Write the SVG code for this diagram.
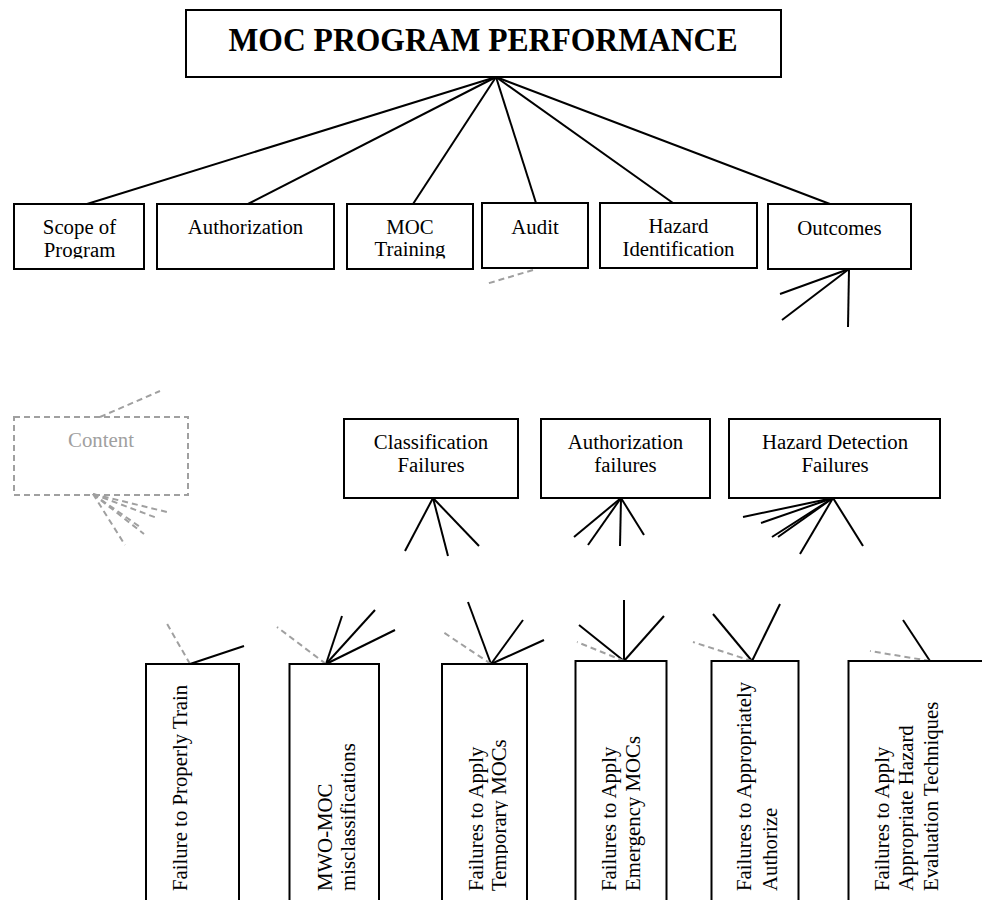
<svg xmlns="http://www.w3.org/2000/svg" width="982" height="900" viewBox="0 0 982 900">
<style>
.box{fill:#fff;stroke:#000;stroke-width:2}
.dbox{fill:none;stroke:#a0a0a0;stroke-width:2;stroke-dasharray:6 4}
.t{font-family:"Liberation Serif","Times New Roman",serif;font-size:20.8px;fill:#000}
.c{text-anchor:middle}
.title{font-family:"Liberation Serif","Times New Roman",serif;font-size:33.5px;font-weight:bold;text-anchor:middle;fill:#000}
.ln{stroke:#000;stroke-width:2;fill:none}
.dl{stroke:#a0a0a0;stroke-width:2;stroke-dasharray:6 4;fill:none}
</style>
<defs>
<clipPath id="clipTop"><rect x="0" y="200" width="982" height="58.5"/></clipPath>
<clipPath id="clipB3"><rect x="440" y="660" width="68" height="240"/></clipPath>
</defs>
<rect width="982" height="900" fill="#fff"/>

<g id="connectors">
<line class="ln" x1="496" y1="77" x2="87" y2="204"/>
<line class="ln" x1="496" y1="77" x2="248" y2="204"/>
<line class="ln" x1="496" y1="77" x2="413" y2="204"/>
<line class="ln" x1="496" y1="77" x2="536" y2="203"/>
<line class="ln" x1="496" y1="77" x2="673" y2="203"/>
<line class="ln" x1="496" y1="77" x2="830" y2="204"/>
<line class="dl" x1="533" y1="270" x2="486" y2="284"/>
<line class="ln" x1="849" y1="269" x2="780" y2="294"/>
<line class="ln" x1="849" y1="269" x2="782" y2="320"/>
<line class="ln" x1="849" y1="269" x2="848" y2="327"/>
<line class="dl" x1="100" y1="417" x2="160" y2="391"/>
<line class="dl" x1="93" y1="494" x2="167" y2="512"/>
<line class="dl" x1="93" y1="494" x2="157" y2="518"/>
<line class="dl" x1="93" y1="494" x2="144" y2="534"/>
<line class="dl" x1="93" y1="494" x2="140" y2="527"/>
<line class="dl" x1="93" y1="494" x2="125" y2="545"/>
<line class="ln" x1="433" y1="498" x2="405" y2="551"/>
<line class="ln" x1="433" y1="498" x2="448" y2="556"/>
<line class="ln" x1="433" y1="498" x2="479" y2="546"/>
<line class="ln" x1="621" y1="498" x2="574" y2="537"/>
<line class="ln" x1="621" y1="498" x2="588" y2="545"/>
<line class="ln" x1="621" y1="498" x2="620" y2="546"/>
<line class="ln" x1="621" y1="498" x2="644" y2="535"/>
<line class="ln" x1="833" y1="498" x2="743" y2="517"/>
<line class="ln" x1="833" y1="498" x2="761" y2="523"/>
<line class="ln" x1="833" y1="498" x2="772" y2="537"/>
<line class="ln" x1="833" y1="498" x2="778" y2="537"/>
<line class="ln" x1="833" y1="498" x2="800" y2="554"/>
<line class="ln" x1="833" y1="498" x2="863" y2="546"/>
<line class="ln" x1="190" y1="664" x2="244" y2="646"/>
<line class="dl" x1="190" y1="664" x2="166" y2="622"/>
<line class="ln" x1="326" y1="664" x2="342" y2="616"/>
<line class="ln" x1="326" y1="664" x2="375" y2="610"/>
<line class="ln" x1="326" y1="664" x2="395" y2="630"/>
<line class="dl" x1="326" y1="664" x2="277" y2="627"/>
<line class="ln" x1="491" y1="664" x2="468" y2="602"/>
<line class="ln" x1="491" y1="664" x2="523" y2="620"/>
<line class="ln" x1="491" y1="664" x2="544" y2="640"/>
<line class="dl" x1="491" y1="664" x2="443" y2="632"/>
<line class="ln" x1="624" y1="661" x2="579" y2="625"/>
<line class="ln" x1="624" y1="661" x2="624" y2="600"/>
<line class="ln" x1="624" y1="661" x2="664" y2="616"/>
<line class="dl" x1="624" y1="661" x2="577" y2="642"/>
<line class="ln" x1="752" y1="661" x2="713" y2="614"/>
<line class="ln" x1="752" y1="661" x2="780" y2="604"/>
<line class="dl" x1="752" y1="661" x2="693" y2="642"/>
<line class="ln" x1="930" y1="661" x2="903" y2="620"/>
<line class="dl" x1="930" y1="661" x2="870" y2="651"/>
</g>

<g id="title">
<rect class="box" x="186" y="10" width="595" height="67"/>
<text class="title" x="483" y="51" textLength="509" lengthAdjust="spacingAndGlyphs">MOC PROGRAM PERFORMANCE</text>
</g>

<g id="scope">
<rect class="box" x="14" y="204" width="130" height="65"/>
<g clip-path="url(#clipTop)"><text class="t c" x="79.5" y="234">Scope of</text><text class="t c" x="79.5" y="257">Program</text></g>
</g>
<g id="authorization">
<rect class="box" x="157" y="204" width="177" height="65"/>
<text class="t c" x="245.5" y="234">Authorization</text>
</g>
<g id="moc-training">
<rect class="box" x="347" y="204" width="126" height="65"/>
<g clip-path="url(#clipTop)"><text class="t c" x="410" y="234">MOC</text><text class="t c" x="410" y="256">Training</text></g>
</g>
<g id="audit">
<rect class="box" x="482" y="203" width="106" height="65"/>
<text class="t c" x="535" y="234">Audit</text>
</g>
<g id="hazard-identification">
<rect class="box" x="600" y="203" width="157" height="65"/>
<text class="t c" x="678.5" y="233">Hazard</text>
<text class="t c" x="678.5" y="256">Identification</text>
</g>
<g id="outcomes">
<rect class="box" x="768" y="204" width="143" height="65"/>
<text class="t c" x="839.5" y="235">Outcomes</text>
</g>

<g id="content">
<rect class="dbox" x="14" y="417" width="174" height="78"/>
<text class="t c" x="101" y="447" style="fill:#a0a0a0">Content</text>
</g>

<g id="classification-failures">
<rect class="box" x="344" y="419" width="174" height="79"/>
<text class="t c" x="431" y="449">Classification</text>
<text class="t c" x="431" y="472">Failures</text>
</g>
<g id="authorization-failures">
<rect class="box" x="541" y="419" width="169" height="79"/>
<text class="t c" x="625.5" y="449">Authorization</text>
<text class="t c" x="625.5" y="472">failures</text>
</g>
<g id="hazard-detection-failures">
<rect class="box" x="729" y="419" width="211" height="79"/>
<text class="t c" x="835" y="449">Hazard Detection</text>
<text class="t c" x="835" y="472">Failures</text>
</g>

<g id="failure-train">
<rect class="box" x="146" y="664" width="93" height="245"/>
<text class="t" transform="translate(187,891) rotate(-90)">Failure to Properly Train</text>
</g>
<g id="mwo-moc">
<rect class="box" x="289.5" y="664" width="89.5" height="245"/>
<text class="t" transform="translate(331.5,891) rotate(-90)">MWO-MOC</text>
<text class="t" transform="translate(354.5,891) rotate(-90)">misclassifications</text>
</g>
<g id="temporary-mocs">
<rect class="box" x="442" y="664" width="85" height="245"/>
<g clip-path="url(#clipB3)">
<text class="t" transform="translate(483,891) rotate(-90)">Failures to Apply</text>
<text class="t" transform="translate(506,891) rotate(-90)">Temporary MOCs</text>
</g>
</g>
<g id="emergency-mocs">
<rect class="box" x="575.5" y="661" width="91" height="248"/>
<text class="t" transform="translate(616,891) rotate(-90)">Failures to Apply</text>
<text class="t" transform="translate(640,891) rotate(-90)">Emergency MOCs</text>
</g>
<g id="appropriately-authorize">
<rect class="box" x="711.5" y="661" width="87" height="248"/>
<text class="t" transform="translate(751,891) rotate(-90)">Failures to Appropriately</text>
<text class="t" transform="translate(776.5,891) rotate(-90)">Authorize</text>
</g>
<g id="hazard-evaluation">
<rect class="box" x="848.5" y="661" width="150" height="248"/>
<text class="t" transform="translate(888.5,891) rotate(-90)">Failures to Apply</text>
<text class="t" transform="translate(913,891) rotate(-90)">Appropriate Hazard</text>
<text class="t" transform="translate(937.5,891) rotate(-90)">Evaluation Techniques</text>
</g>
</svg>
